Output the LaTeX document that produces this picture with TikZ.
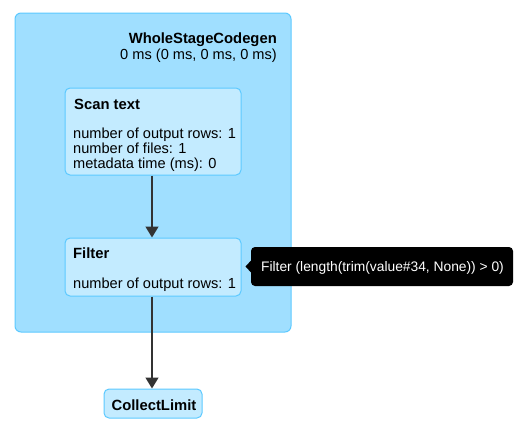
\documentclass[tikz,border=0pt]{standalone}
\usepackage{fontspec}
\setmainfont{Liberation Sans}
\usetikzlibrary{arrows.meta}
\definecolor{clusterfill}{HTML}{A0DFFF}
\definecolor{nodefill}{HTML}{C3EBFF}
\definecolor{edgeblue}{HTML}{5CC9FF}
\definecolor{edgegray}{HTML}{333333}
\tikzset{
  cluster/.style={draw=edgeblue, fill=clusterfill, rounded corners=6pt, line width=1pt},
  opbox/.style={draw=edgeblue, fill=nodefill, rounded corners=5pt, line width=1pt},
  lbl/.style={font=\fontsize{14.6}{15}\selectfont, inner sep=0pt, anchor=base west},
  blbl/.style={font=\fontsize{14.8}{15}\selectfont\bfseries, inner sep=0pt, anchor=base west},
  tlbl/.style={font=\fontsize{13.8}{15}\selectfont, inner sep=0pt, anchor=base, text=white},
  flow/.style={draw=edgegray, line width=1.5pt, -{Triangle[width=13pt,length=11pt]}},
  tip/.style={fill=black, rounded corners=4pt},
}
\begin{document}
\begin{tikzpicture}[x=1pt,y=-1pt]
\useasboundingbox (0,0) rectangle (524,431);
% cluster
\path[cluster] (15,13) rectangle (291,332);
\node[blbl, anchor=base east] (wtitle) at (277,43) {WholeStageCodegen};
\node[lbl, anchor=base east] (wtime) at (277,59) {0 ms (0 ms, 0 ms, 0 ms)};
% scan node
\node[opbox, minimum width=176pt, minimum height=87pt, inner sep=0pt] (scan) at (153,131.5) {};
\node[blbl] (scant) at (74,109) {Scan text};
\node[lbl] (scan1) at (73,138) {number of output rows: 1};
\node[lbl] (scan2) at (73,153) {number of files: 1};
\node[lbl] (scan3) at (73,168) {metadata time (ms): 0};
% filter node
\node[opbox, minimum width=176pt, minimum height=58pt, inner sep=0pt] (filter) at (153,267) {};
\node[blbl] (filtert) at (73,258) {Filter};
\node[lbl] (filter1) at (73,288) {number of output rows: 1};
% collect limit
\node[opbox, minimum width=98pt, minimum height=29pt, inner sep=0pt] (collect) at (153,403.5) {};
\node[blbl, anchor=base] (collectt) at (154,410) {CollectLimit};
% edges
\draw[flow] (scan.south -| 152,0) -- (filter.north -| 152,0);
\draw[flow] (filter.south -| 152,0) -- (collect.north -| 152,0);
% tooltip
\path[tip] (251,247) rectangle (513,286);
\fill[black] (245.5,266.5) -- (252,259.5) -- (252,273.5) -- cycle;
\node[tlbl] (tiptext) at (382.5,271.5) {Filter (length(trim(value\#34, None)) > 0)};
\end{tikzpicture}
\end{document}
